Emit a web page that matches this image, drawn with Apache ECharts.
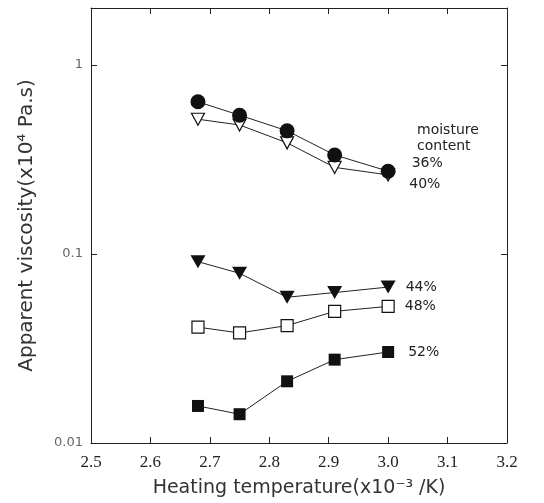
<!DOCTYPE html>
<html>
<head>
<meta charset="utf-8">
<script src="https://cdn.jsdelivr.net/npm/echarts@6/dist/echarts.min.js"></script>
<style>
  html, body { margin: 0; padding: 0; background: #fff; }
  #chart { width: 544px; height: 503px; }
</style>
</head>
<body>
<div id="chart"></div>
<script>
// heating temperature, 1/T (x10^-3 /K)
var temps = [2.68, 2.75, 2.83, 2.91, 3.00];

// apparent viscosity (x10^4 Pa.s) for each moisture content
var moist36 = [0.638, 0.542, 0.448, 0.334, 0.274];
var moist40 = [0.516, 0.481, 0.387, 0.287, 0.262];
var moist44 = [0.091, 0.079, 0.059, 0.0625, 0.0668];
var moist48 = [0.041, 0.0382, 0.0418, 0.0497, 0.0528];
var moist52 = [0.0157, 0.0142, 0.0212, 0.0276, 0.0303];

var seriesNames = ['36%', '40%', '44%', '48%', '52%'];

function pairs(values) {
    var out = [];
    for (var i = 0; i < temps.length; i++) {
        out.push([temps[i], values[i]]);
    }
    return out;
}

function makeSeries(name, values, symbol, size, filled, labelOffset, z) {
    var data = pairs(values);
    var last = data.length - 1;
    data[last] = {
        value: data[last],
        label: {
            show: true,
            position: 'right',
            distance: 4,
            offset: labelOffset,
            formatter: name,
            fontFamily: 'DejaVu Sans',
            fontSize: 14,
            color: '#222'
        }
    };
    return {
        name: name,
        type: 'line',
        data: data,
        symbol: symbol,
        symbolSize: size,
        showAllSymbol: true,
        lineStyle: { color: '#222', width: 1 },
        itemStyle: {
            color: filled ? '#111' : '#fff',
            borderColor: '#111',
            borderWidth: filled ? 0 : 1.2
        },
        z: z,
        animation: false
    };
}

var chart = echarts.init(document.getElementById('chart'));

var option = {
    animation: false,
    backgroundColor: '#fff',
    grid: { left: 91, right: 37, top: 8, bottom: 60 },
    xAxis: [{
        type: 'value',
        min: 2.5,
        max: 3.2,
        interval: 0.1,
        name: 'Heating temperature(x10\u207B\u00B3 /K)',
        nameLocation: 'middle',
        nameGap: 36,
        nameTextStyle: { fontFamily: 'DejaVu Sans', fontSize: 19, color: '#333' },
        axisLine: { lineStyle: { color: '#222', width: 1 } },
        axisTick: { inside: true, length: 6, lineStyle: { color: '#222' } },
        axisLabel: {
            margin: 11,
            fontFamily: 'Liberation Serif',
            fontSize: 17,
            color: '#222',
            formatter: function (v) { return v.toFixed(1); }
        },
        splitLine: { show: false }
    }, {
        type: 'value',
        position: 'top',
        min: 2.5,
        max: 3.2,
        interval: 0.1,
        axisLine: { lineStyle: { color: '#222', width: 1 } },
        axisTick: { inside: true, length: 6, lineStyle: { color: '#222' } },
        axisLabel: { show: false },
        splitLine: { show: false }
    }],
    yAxis: [{
        type: 'log',
        logBase: 10,
        min: 0.01,
        max: 2,
        name: 'Apparent viscosity(x10\u2074 Pa.s)',
        nameLocation: 'middle',
        nameGap: 54,
        nameTextStyle: { fontFamily: 'DejaVu Sans', fontSize: 20, color: '#333' },
        axisLine: { show: true, lineStyle: { color: '#222', width: 1 } },
        axisTick: { inside: true, length: 6, lineStyle: { color: '#222' } },
        axisLabel: {
            margin: 8,
            fontFamily: 'DejaVu Sans',
            fontSize: 13,
            color: '#666',
            formatter: function (v) {
                var e = Math.log10(v);
                if (Math.abs(e - Math.round(e)) > 1e-6) return '';
                return String(+v.toPrecision(3));
            }
        },
        splitLine: { show: false }
    }, {
        type: 'log',
        logBase: 10,
        min: 0.01,
        max: 2,
        position: 'right',
        axisLine: { show: true, lineStyle: { color: '#222', width: 1 } },
        axisTick: { inside: true, length: 6, lineStyle: { color: '#222' } },
        axisLabel: { show: false },
        splitLine: { show: false }
    }],
    graphic: [{
        type: 'text',
        left: 417,
        top: 122,
        style: {
            text: 'moisture\ncontent',
            font: '14px "DejaVu Sans"',
            fill: '#222',
            lineHeight: 16
        }
    }],
    series: [
        makeSeries(seriesNames[0], moist36, 'circle', 15, true, [12, -8], 5),
        makeSeries(seriesNames[1], moist40, 'path://M0,0 L10,0 L5,9 Z', [13, 12], false, [10, 9], 4),
        makeSeries(seriesNames[2], moist44, 'path://M0,0 L10,0 L5,9 Z', [15, 13], true, [6, 0], 3),
        makeSeries(seriesNames[3], moist48, 'rect', 12, false, [6, 0], 3),
        makeSeries(seriesNames[4], moist52, 'rect', 12, true, [10, 0], 3)
    ]
};

chart.setOption(option);
</script>
</body>
</html>
